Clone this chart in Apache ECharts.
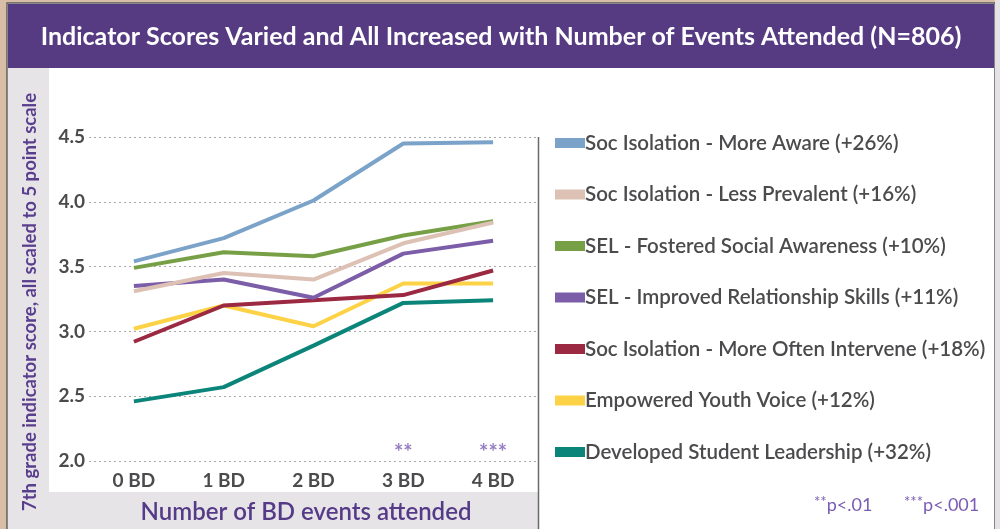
<!DOCTYPE html>
<html>
<head>
<meta charset="utf-8">
<script src="https://cdn.jsdelivr.net/npm/echarts@6/dist/echarts.min.js"></script>
<style>html,body{margin:0;padding:0;background:#d8bea6;}#c{width:1000px;height:529px;}</style>
</head>
<body>
<div id="c"></div>
<script>
const categories = ['0 BD', '1 BD', '2 BD', '3 BD', '4 BD'];
const seriesNames = [
  'Soc Isolation - More Aware (+26%)',
  'Soc Isolation - Less Prevalent (+16%)',
  'SEL - Fostered Social Awareness (+10%)',
  'SEL - Improved Relationship Skills (+11%)',
  'Soc Isolation - More Often Intervene (+18%)',
  'Empowered Youth Voice (+12%)',
  'Developed Student Leadership (+32%)'
];
const moreAware = [3.54, 3.72, 4.01, 4.45, 4.46];
const lessPrevalent = [3.31, 3.45, 3.40, 3.68, 3.84];
const fosteredSocial = [3.49, 3.61, 3.58, 3.74, 3.85];
const relationshipSkills = [3.35, 3.40, 3.26, 3.60, 3.70];
const moreOftenIntervene = [2.92, 3.20, 3.24, 3.28, 3.47];
const youthVoice = [3.02, 3.20, 3.04, 3.37, 3.37];
const studentLeadership = [2.46, 2.57, 2.89, 3.22, 3.24];
const sigLabels = ['', '', '', '**', '***'];
const yTicks = [2.0, 2.5, 3.0, 3.5, 4.0, 4.5];

const colors = ['#7ba3c9', '#dcc1b4', '#77a046', '#7b5da8', '#9b2942', '#fdd247', '#0b857a'];
const allData = [moreAware, lessPrevalent, fosteredSocial, relationshipSkills, moreOftenIntervene, youthVoice, studentLeadership];
const FONT = 'Lato, "Open Sans", sans-serif';

const chart = echarts.init(document.getElementById('c'), null, {renderer: 'canvas'});

const series = seriesNames.map((n, i) => ({
  name: n,
  type: 'line',
  data: allData[i],
  symbol: 'none',
  lineStyle: {width: 4, color: colors[i]},
  itemStyle: {color: colors[i]},
  z: 10 - i
}));
series.push({
  name: 'sig',
  type: 'scatter',
  data: sigLabels.map(s => s ? 2.06 : null),
  symbolSize: 0,
  silent: true,
  label: {
    show: true,
    position: 'inside',
    formatter: p => sigLabels[p.dataIndex],
    color: '#7a5cb3',
    fontSize: 22,
    fontWeight: 'bold',
    fontFamily: FONT
  }
});

chart.setOption({
  animation: false,
  backgroundColor: 'transparent',
  grid: {left: 89, right: 462, top: 137, bottom: 68},
  xAxis: {
    type: 'category',
    data: categories,
    boundaryGap: true,
    axisLine: {show: false},
    axisTick: {show: false},
    axisLabel: {color: '#4b4b4d', fontSize: 19, fontWeight: 'bold', fontFamily: FONT, margin: 10}
  },
  yAxis: {
    type: 'value',
    min: 2.0,
    max: 4.5,
    interval: 0.5,
    axisLine: {show: false},
    axisTick: {show: false},
    axisLabel: {
      color: '#4b4b4d', fontSize: 19, fontWeight: 'bold', fontFamily: FONT, margin: 4,
      formatter: v => yTicks.includes(Math.round(v * 10) / 10) ? v.toFixed(1) : ''
    },
    splitLine: {show: true, lineStyle: {type: [2, 3], color: '#a8a8a8', width: 1}}
  },
  legend: {
    data: seriesNames,
    orient: 'vertical',
    left: 550,
    top: 127,
    icon: 'rect',
    itemWidth: 30,
    itemHeight: 10,
    itemGap: 29.5,
    selectedMode: false,
    textStyle: {color: '#4b4b4d', fontSize: 20.5, fontWeight: 600, fontFamily: FONT, lineHeight: 22, padding: [0, 0, 0, -5]}
  },
  graphic: [
    {type: 'rect', z: -20, shape: {x: 7, y: 3, width: 988, height: 530}, style: {fill: '#ffffff', stroke: '#5f5f5f', lineWidth: 1.5}},
    {type: 'rect', z: -19, shape: {x: 995, y: 0, width: 5, height: 529}, style: {fill: '#e4e2e4'}},
    {type: 'rect', z: -18, shape: {x: 8, y: 4, width: 986, height: 64}, style: {fill: '#563b83'}},
    {type: 'rect', z: -18, shape: {x: 8, y: 68, width: 41, height: 461}, style: {fill: '#e6e4e7'}},
    {type: 'rect', z: -18, shape: {x: 8, y: 492, width: 530, height: 37}, style: {fill: '#e6e4e7'}},
    {type: 'line', z: -17, shape: {x1: 538.5, y1: 137, x2: 538.5, y2: 529}, style: {stroke: '#6a6a6a', lineWidth: 1.5}},
    {type: 'text', z: 5, x: 501, y: 37, style: {
      text: 'Indicator Scores Varied and All Increased with Number of Events Attended (N=806)',
      fill: '#ffffff', font: 'bold 25px ' + FONT, textAlign: 'center', textVerticalAlign: 'middle'}},
    {type: 'text', z: 5, x: 30, y: 302, rotation: Math.PI / 2, style: {
      text: '7th grade indicator score, all scaled to 5 point scale',
      fill: '#5a3e8e', font: 'bold 18.5px ' + FONT, textAlign: 'center', textVerticalAlign: 'middle'}},
    {type: 'text', z: 5, x: 306, y: 512, style: {
      text: 'Number of BD events attended',
      fill: '#553a88', font: '600 24px ' + FONT, textAlign: 'center', textVerticalAlign: 'middle'}},
    {type: 'text', z: 5, x: 814, y: 505, style: {
      text: '{s|**}{t|p<.01}', textVerticalAlign: 'middle',
      rich: {s: {fill: '#7a5cb3', fontSize: 15, fontFamily: FONT, verticalAlign: 'top', padding: [0, 0, 6, 0]},
             t: {fill: '#7a5cb3', fontSize: 18, fontFamily: FONT}}}},
    {type: 'text', z: 5, x: 904, y: 505, style: {
      text: '{s|***}{t|p<.001}', textVerticalAlign: 'middle',
      rich: {s: {fill: '#7a5cb3', fontSize: 15, fontFamily: FONT, verticalAlign: 'top', padding: [0, 0, 6, 0]},
             t: {fill: '#7a5cb3', fontSize: 18, fontFamily: FONT}}}}
  ],
  series: series
});
</script>
</body>
</html>
